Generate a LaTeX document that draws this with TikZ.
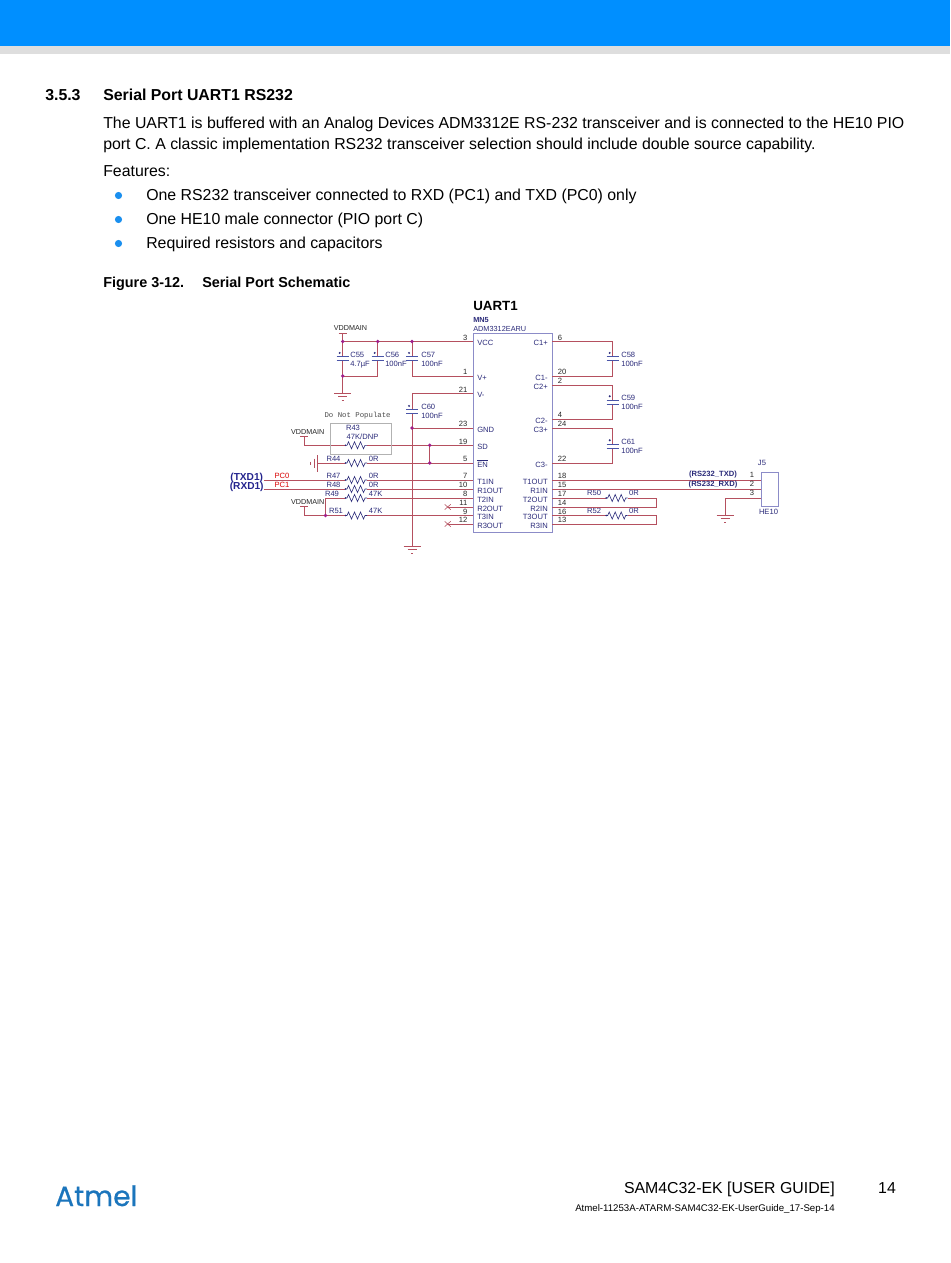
\documentclass[tikz,border=0pt]{standalone}
\usepackage{fontspec}
\setmainfont{Liberation Sans}
\newfontfamily\lmono{Liberation Mono}
\newfontfamily\logofont[FakeBold=0.5]{Poppins}
\definecolor{topblue}{HTML}{008FFF}
\definecolor{bulblue}{HTML}{1A8FEF}
\definecolor{stripgray}{HTML}{DEDEDE}
\definecolor{wirec}{HTML}{B5505F}
\definecolor{navy}{HTML}{2B2B7A}
\definecolor{partc}{HTML}{4A55A8}
\definecolor{icc}{HTML}{8C8CC8}
\definecolor{junc}{HTML}{A01E8C}
\definecolor{atmel}{HTML}{1B75BC}
\tikzset{
  x=0.75pt,y=-0.75pt,
  wire/.style={draw=wirec,line width=0.6pt},
  body/.style={anchor=base west,inner sep=0pt,font=\fontsize{11.9}{13}\selectfont},
  bodyb/.style={anchor=base west,inner sep=0pt,font=\fontsize{11.9}{13}\selectfont\bfseries},
  capt/.style={anchor=base west,inner sep=0pt,font=\fontsize{10.8}{13}\selectfont\bfseries},
  sm/.style={inner sep=0pt,text=navy,font=\fontsize{5.7}{6}\selectfont},
  pinno/.style={inner sep=0pt,text=black!85,font=\fontsize{5.7}{6}\selectfont},
  pwr/.style={inner sep=0pt,text=black!85,font=\fontsize{5.4}{6}\selectfont},
  bigsig/.style={inner sep=0pt,text=navy!85!blue,font=\fontsize{7.6}{8}\selectfont\bfseries},
  netb/.style={inner sep=0pt,text=navy,font=\fontsize{5.7}{6}\selectfont\bfseries},
  redlab/.style={inner sep=0pt,text=red!85!black,font=\fontsize{5.7}{6}\selectfont},
  jdot/.style={circle,fill=junc,inner sep=0pt,minimum size=2.8pt},
  bullet/.style={circle,fill=bulblue,inner sep=0pt,minimum size=5.4pt},
  rez/.pic={
    \draw[white,line width=1pt] (0,0) -- (22,0);
    \draw[navy,line width=0.45pt] (0,0) -- (2,0) -- (3.5,-3.5) -- (6.5,3.5) -- (9.5,-3.5) -- (12.5,3.5) -- (15.5,-3.5) -- (18.5,3.5) -- (20,0) -- (22,0);
    \fill[navy] (0.5,0) circle (0.9);
  },
  capac/.pic={
    \fill[white] (-6,-2) rectangle (6,2);
    \draw[partc,line width=0.6pt] (-6,-2) -- (6,-2) (-6,2) -- (6,2);
    \fill[navy] (-3,-5.8) circle (1.1);
  },
  gnd/.pic={
    \draw[wirec,line width=0.55pt] (-8.5,0) -- (8.5,0) (-4.5,3.5) -- (4.5,3.5) (-1,7) -- (1,7);
  },
  teebar/.pic={
    \draw[wirec,line width=0.55pt] (-4,0) -- (4,0);
  },
  cross/.pic={
    \draw[wirec,line width=0.45pt] (-3,-2.6) -- (3,2.6) (-3,2.6) -- (3,-2.6);
  }
}
\begin{document}
\begin{tikzpicture}
\useasboundingbox (0,0) rectangle (950,1263);
\fill[white] (0,0) rectangle (950,1263);
\fill[stripgray] (0,46) rectangle (950,54);
\fill[topblue] (0,0) rectangle (950,46.5);

% page text
\node[bodyb] (secno) at (45,100) {3.5.3};
\node[bodyb] (sectitle) at (103,100) {Serial Port UART1 RS232};
\node[body] (p1) at (103,128.5) {The UART1 is buffered with an Analog Devices ADM3312E RS-232 transceiver and is connected to the HE10 PIO};
\node[body] (p2) at (103,149.5) {port C. A classic implementation RS232 transceiver selection should include double source capability.};
\node[body] (p3) at (103,176.5) {Features:};
\foreach \k/\yy/\tt in {a/200.5/{One RS232 transceiver connected to RXD (PC1) and TXD (PC0) only},
                        b/224.5/{One HE10 male connector (PIO port C)},
                        c/248.5/{Required resistors and capacitors}}{
  \node[bullet] (bul\k) at (118.5,\yy-5) {};
  \node[body] (li\k) at (146,\yy) {\tt};
}
\node[capt] (figno) at (103,287) {Figure 3-12.};
\node[capt] (figt) at (202,287) {Serial Port Schematic};

% IC
\node[inner sep=0pt,draw=icc,line width=0.6pt,minimum width=59.25pt,minimum height=149.6pt,anchor=north west] (ic) at (473,333) {};
\node[anchor=mid west,inner sep=0pt,font=\fontsize{10}{12}\selectfont\bfseries] (utitle) at (473,306.5) {UART1};
\node[sm,anchor=mid west,font=\fontsize{5.5}{6}\selectfont\bfseries] (mn5) at (473,319) {MN5};
\node[sm,anchor=mid west,font=\fontsize{5.5}{6}\selectfont] (adm) at (473,327.5) {ADM3312EARU};

\foreach \k/\tt/\n/\yy in {VCC/VCC/3/341.5,VP/V+/1/376,VM/V-/21/393.7,GND/GND/23/428,SD/SD/19/445.3,EN/{$\overline{\mbox{EN}}$}/5/463,T1I/T1IN/7/480,R1O/R1OUT/10/489,T2I/T2IN/8/498,R2O/R2OUT/11/507,T3I/T3IN/9/515.5,R3O/R3OUT/12/524}{
  \coordinate (L\k) at (473,\yy);
  \node[sm,anchor=mid west] (LN\k) at (477,\yy+0.6) {\tt};
  \node[pinno,anchor=mid east] (LP\k) at (467.5,\yy-4.6) {\n};
}
\foreach \k/\tt/\n/\yy in {C1P/C1+/6/341.5,C1M/C1-/20/376,C2P/C2+/2/385,C2M/C2-/4/419,C3P/C3+/24/428,C3M/C3-/22/463,T1O/T1OUT/18/480,R1I/R1IN/15/489,T2O/T2OUT/17/498,R2I/R2IN/14/507,T3O/T3OUT/16/515.5,R3I/R3IN/13/524}{
  \coordinate (R\k) at (552,\yy);
  \node[sm,anchor=mid east] (RN\k) at (548,\yy+0.6) {\tt};
  \node[pinno,anchor=mid west] (RP\k) at (557.7,\yy-4.6) {\n};
}

% left coordinates
\coordinate (j55t) at (342.7,341.5);
\coordinate (j56t) at (377.7,341.5);
\coordinate (j57t) at (412,341.5);
\coordinate (j55b) at (342.7,376);
\coordinate (c56b) at (377.7,376);
\coordinate (c57b) at (412,376);
\coordinate (c60t) at (412,393.7);
\coordinate (jgnd) at (412,428);
\coordinate (gnd1) at (412,546);
\coordinate (vdd1) at (342.7,333);
\coordinate (gnd2) at (342.7,393);
\coordinate (vdd2) at (304,436.7);
\coordinate (vdd2b) at (304,445.3);
\coordinate (jsd) at (429.7,445.3);
\coordinate (jen) at (429.7,463);
\coordinate (gnd3) at (317.7,463);
\coordinate (pc0) at (264,480);
\coordinate (pc1) at (264,489);
\coordinate (v49) at (325.5,498);
\coordinate (j51) at (325.5,515.5);
\coordinate (vdd3) at (304,506.7);
\coordinate (vdd3b) at (304,515.5);
\coordinate (x11) at (447.7,507);
\coordinate (x12) at (447.7,524);

\draw[wire] (LVCC) -- (j55t) -- (vdd1);
\draw[wire] (j55t) -- (j55b) -- (gnd2);
\draw[wire] (j56t) -- (c56b) -- (j55b);
\draw[wire] (j57t) -- (c57b) -- (LVP);
\draw[wire] (LVM) -- (c60t) -- (gnd1);
\draw[wire] (jgnd) -- (LGND);
\draw[wire] (vdd2) -- (vdd2b) -- (LSD);
\draw[wire] (jsd) -- (jen);
\draw[wire] (gnd3) -- (LEN);
\draw[wire] (pc0) -- (LT1I);
\draw[wire] (pc1) -- (LR1O);
\draw[wire] (j51) -- (v49) -- (LT2I);
\draw[wire] (vdd3) -- (vdd3b) -- (LT3I);
\draw[wire] (x11) -- (LR2O);
\draw[wire] (x12) -- (LR3O);

% caps left
\pic at (342.7,358.7) {capac};
\pic at (377.7,358.7) {capac};
\pic at (412,358.7) {capac};
\pic at (412,411.7) {capac};
% R43 box
\node[draw=black!30,line width=0.5pt,inner sep=0pt,minimum width=45.75pt,minimum height=23pt,anchor=north west] (dnpbox) at (330,423.3) {};
\node[anchor=mid,inner sep=0pt,text=black!70,font=\lmono\fontsize{5.5}{6}\selectfont] (dnp) at (357.6,414.3) {Do Not Populate};
% resistors left
\foreach \yy in {445.3,463,480,489,498,515.5}{ \pic at (345,\yy) {rez}; }
% left ground, sideways
\draw[wire] (317.7,455) -- (317.7,471.7) (314,458.5) -- (314,467.5) (310.7,461.5) -- (310.7,464.5);
\pic at (gnd1) {gnd};
\pic at (gnd2) {gnd};
\pic at (vdd1) {teebar};
\pic at (vdd2) {teebar};
\pic at (vdd3) {teebar};
\pic at (x11) {cross};
\pic at (x12) {cross};
\foreach \c in {j55t,j56t,j57t,j55b,jgnd,jsd,jen,j51}{ \node[jdot] (d\c) at (\c) {}; }

% left labels
\node[pwr] (tv1) at (350.5,327.7) {VDDMAIN};
\node[pwr] (tv2) at (307.7,432.3) {VDDMAIN};
\node[pwr] (tv3) at (307.7,501.7) {VDDMAIN};
\foreach \k/\aa/\bb/\xx/\yy in {c55/C55/4.7µF/350/354,c56/C56/100nF/385/354,c57/C57/100nF/421/354,c60/C60/100nF/421/406,c58/C58/100nF/621/354,c59/C59/100nF/621/397,c61/C61/100nF/621/441.3}{
  \node[sm,anchor=mid west] (t\k) at (\xx,\yy) {\aa};
  \node[sm,anchor=mid west] (v\k) at (\xx,\yy+8.6) {\bb};
}
\foreach \k/\tt/\xx/\yy in {r44/R44/333.5/458.7,r47/R47/333.5/476,r48/R48/333.5/484.5,r49/R49/332/493.5,r51/R51/336/511,r50/R50/594/493,r52/R52/594/511}{
  \node[sm] (t\k) at (\xx,\yy) {\tt};
}
\foreach \k/\tt/\xx/\yy in {a/0R/373.7/458.7,b/0R/373.7/476,c/0R/373.7/484.5,d/47K/375.7/493.5,e/47K/375.7/511,f/0R/634/493,g/0R/634/511}{
  \node[sm] (w\k) at (\xx,\yy) {\tt};
}
\node[sm] (tr43) at (353,428.3) {R43};
\node[sm] (vr43) at (362.5,437) {47K/DNP};
\node[redlab] (lpc0) at (282,475.8) {PC0};
\node[redlab] (lpc1) at (282,484.5) {PC1};
\node[bigsig] (ltxd) at (246.7,478) {(TXD1)};
\node[bigsig] (lrxd) at (246.7,486.7) {(RXD1)};

% right side
\coordinate (c58t) at (612.7,341.5);
\coordinate (c58b) at (612.7,376);
\coordinate (c59t) at (612.7,385);
\coordinate (c59b) at (612.7,419);
\coordinate (c61t) at (612.7,428);
\coordinate (c61b) at (612.7,463);
\coordinate (jp1) at (760.7,480);
\coordinate (jp2) at (760.7,489);
\coordinate (jp3) at (760.7,498);
\coordinate (g4t) at (725,498);
\coordinate (gnd4) at (725,515);
\coordinate (l2a) at (656.7,498);
\coordinate (l2b) at (656.7,507);
\coordinate (l3a) at (656.7,515.5);
\coordinate (l3b) at (656.7,524);
\draw[wire] (RC1P) -- (c58t) -- (c58b) -- (RC1M);
\draw[wire] (RC2P) -- (c59t) -- (c59b) -- (RC2M);
\draw[wire] (RC3P) -- (c61t) -- (c61b) -- (RC3M);
\draw[wire] (RT1O) -- (jp1);
\draw[wire] (RR1I) -- (jp2);
\draw[wire] (jp3) -- (g4t) -- (gnd4);
\draw[wire] (RT2O) -- (l2a) -- (l2b) -- (RR2I);
\draw[wire] (RT3O) -- (l3a) -- (l3b) -- (RR3I);
\pic at (612.7,358.7) {capac};
\pic at (612.7,402) {capac};
\pic at (612.7,446) {capac};
\pic at (605.7,498) {rez};
\pic at (605.7,515.5) {rez};
\pic at (gnd4) {gnd};
\node[draw=icc,line width=0.6pt,inner sep=0pt,minimum width=12.75pt,minimum height=25.7pt,anchor=north west] (j5) at (760.7,471.7) {};
\node[sm] (tj5) at (762,463.3) {J5};
\node[sm] (he10) at (768.5,511.5) {HE10};
\node[pinno] (p1j) at (752,475) {1};
\node[pinno] (p2j) at (752,484) {2};
\node[pinno] (p3j) at (752,493) {3};
\node[netb] (ntx) at (713,474.5) {(RS232\_TXD)};
\node[netb] (nrx) at (713,484.3) {(RS232\_RXD)};

% footer
\node[anchor=base east,inner sep=0pt,font=\fontsize{11.9}{13}\selectfont] (fg) at (835,1193) {SAM4C32-EK [USER GUIDE]};
\node[anchor=base,inner sep=0pt,font=\fontsize{11.9}{13}\selectfont] (pgno) at (887,1193) {14};
\node[anchor=base east,inner sep=0pt,font=\fontsize{7.25}{8}\selectfont] (fd) at (835,1211) {Atmel-11253A-ATARM-SAM4C32-EK-UserGuide\_17-Sep-14};
\node[anchor=base west,inner sep=0pt,text=atmel,font=\logofont\fontsize{21}{23}\selectfont] (logo) at (55,1206) {Atmel};
\end{tikzpicture}
\end{document}
